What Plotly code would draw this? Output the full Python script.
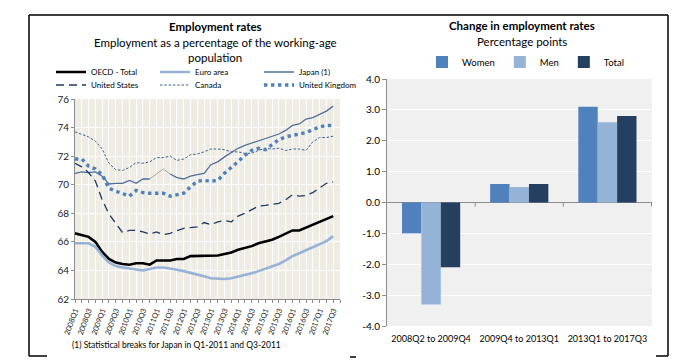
import plotly.graph_objects as go

# ---------------- data ----------------
quarters = [f"{y}Q{q}" for y in range(2008, 2018) for q in range(1, 5)][:39]

oecd = [66.6, 66.5, 66.35, 66.0, 65.3, 64.8, 64.55, 64.45, 64.4, 64.5,
        64.5, 64.4, 64.7, 64.7, 64.7, 64.8, 64.8, 65.0, 65.0, 65.0,
        65.0, 65.05, 65.15, 65.25, 65.45, 65.55, 65.7, 65.9, 66.0, 66.15,
        66.35, 66.55, 66.8, 66.8, 67.0, 67.2, 67.4, 67.6, 67.8]
euro = [65.9, 65.9, 65.9, 65.65, 65.05, 64.55, 64.3, 64.2, 64.15, 64.05,
        64.0, 64.1, 64.2, 64.2, 64.15, 64.05, 63.95, 63.85, 63.75, 63.6,
        63.45, 63.4, 63.4, 63.45, 63.55, 63.65, 63.8, 63.95, 64.1, 64.25,
        64.45, 64.7, 65.0, 65.2, 65.4, 65.6, 65.8, 66.05, 66.4]
japan = [70.8, 70.9, 70.85, 70.9, 70.6, 70.05, 70.1, 70.1, 70.3, 70.1,
         70.4, 70.4, 70.75, 71.1, 70.75, 70.5, 70.4, 70.6, 70.7, 70.8,
         71.4, 71.6, 71.95, 72.25, 72.55, 72.75, 72.9, 73.05, 73.2, 73.35,
         73.55, 73.8, 74.15, 74.25, 74.6, 74.7, 74.95, 75.15, 75.5]
us = [71.5, 71.25, 70.85, 70.25, 68.95, 67.95, 67.3, 66.65, 66.8, 66.8,
      66.7, 66.55, 66.7, 66.5, 66.6, 66.8, 66.95, 67.0, 67.05, 67.35,
      67.2, 67.4, 67.5, 67.4, 67.8, 68.0, 68.25, 68.5, 68.55, 68.65,
      68.7, 68.95, 69.3, 69.2, 69.25, 69.45, 69.75, 70.1, 70.2]
canada = [73.7, 73.55, 73.35, 73.05, 72.5, 71.5, 71.05, 71.0, 71.2, 71.55,
          71.5, 71.6, 71.9, 71.9, 72.0, 71.7, 71.8, 72.1, 72.15, 72.3,
          72.5, 72.5, 72.45, 72.3, 72.3, 72.2, 72.2, 72.4, 72.55, 72.5,
          72.55, 72.4, 72.5, 72.5, 72.4, 73.0, 73.3, 73.3, 73.4]
uk = [71.8, 71.8, 71.3, 71.1, 70.7, 69.75, 69.55, 69.35, 69.2, 69.6,
      69.45, 69.4, 69.4, 69.4, 69.2, 69.3, 69.4, 69.85, 70.25, 70.3,
      70.25, 70.3, 70.8, 71.2, 71.65, 72.05, 72.4, 72.55, 72.45, 72.8,
      73.15, 73.35, 73.45, 73.55, 73.65, 73.85, 74.05, 74.15, 74.15]

periods = ["2008Q2 to 2009Q4", "2009Q4 to 2013Q1", "2013Q1 to 2017Q3"]
women = [-1.0, 0.6, 3.1]
men = [-3.3, 0.5, 2.6]
total = [-2.1, 0.6, 2.8]

break_idx = [12, 13]  # Japan statistical breaks (2011Q1, 2011Q3)

# ---------------- helpers ----------------
W, H = 694, 361
FONT = "Lato"


def px(x):
    return x / W


def py(y):
    return 1 - y / H


xi = list(range(len(quarters)))
japan_main = [None if i in break_idx else v for i, v in enumerate(japan)]
japan_break = [v if (min(break_idx) - 1) <= i <= (max(break_idx) + 1) else None
               for i, v in enumerate(japan)]

fig = go.Figure()

line_specs = [
    ("OECD - Total", oecd, dict(color="#000000", width=2.6), "legend"),
    ("Euro area", euro, dict(color="#95B3D7", width=2.6), "legend"),
    ("Japan (1)", japan_main, dict(color="#4F6F9C", width=1.3), "legend"),
    ("United States", us, dict(color="#1F3864", width=1.3, dash="8px,5px"), "legend2"),
    ("Canada", canada, dict(color="#3E5E8E", width=1.0, dash="2.5px,1.8px"), "legend2"),
    ("United Kingdom", uk, dict(color="#4F81BD", width=3.4, dash="3.4px,3.6px"), "legend2"),
]
for name, vals, ln, lg in line_specs:
    fig.add_trace(go.Scatter(x=xi, y=vals, name=name, mode="lines", line=ln,
                             xaxis="x", yaxis="y", legend=lg))
fig.add_trace(go.Scatter(x=xi, y=japan_break, mode="lines", showlegend=False,
                         line=dict(color="#A6A6A6", width=1.0), xaxis="x", yaxis="y",
                         hoverinfo="skip"))

for name, vals, col in [("Women", women, "#4F81BD"), ("Men", men, "#95B3D7"),
                        ("Total", total, "#243F60")]:
    fig.add_trace(go.Bar(x=periods, y=vals, name=name, marker=dict(color=col, line_width=0),
                         xaxis="x2", yaxis="y2", legend="legend3"))

# ---------------- shapes ----------------
shapes = [
    dict(type="rect", xref="x domain", yref="y domain", x0=0, x1=1, y0=0, y1=1,
         fillcolor="#EEECE3", line_width=0, layer="below"),
    dict(type="rect", xref="x2 domain", yref="y2 domain", x0=0, x1=1, y0=0, y1=1,
         fillcolor="#F0F0F0", line_width=0, layer="below"),
]
for xa in [0.5, 1.5, 2.5]:
    shapes.append(dict(type="line", xref="x2", yref="y2", ysizemode="pixel", yanchor=0,
                       x0=xa, x1=xa, y0=0, y1=-4, line=dict(color="#8C8C8C", width=1)))
box = dict(color="#000000", width=1.5)
for (x0, y0, x1, y1) in [(29, 15, 668, 15), (29, 15, 29, 356), (668, 15, 668, 356),
                         (29, 356, 47, 356), (350, 357, 356, 357), (656, 356, 668, 356)]:
    shapes.append(dict(type="line", xref="paper", yref="paper", x0=px(x0), x1=px(x1),
                       y0=py(y0), y1=py(y1), line=box))

# ---------------- annotations ----------------
def ann(text, x, y, size, bold=False, xanchor="center"):
    return dict(text=f"<b>{text}</b>" if bold else text, x=px(x), y=py(y), xref="paper",
                yref="paper", showarrow=False, xanchor=xanchor, yanchor="middle",
                font=dict(family=FONT, size=size, color="#000000"))


annotations = [
    ann("Employment rates", 215, 27, 11.5, bold=True),
    ann("Employment as a percentage of the working-age", 215, 42, 11.5),
    ann("population", 215, 57, 11.5),
    ann("Change in employment rates", 522, 26, 11.5, bold=True),
    ann("Percentage points", 522, 41, 11.5),
    ann("(1) Statistical breaks for Japan in Q1-2011 and Q3-2011", 70, 345, 8.5,
        xanchor="left"),
]

leg_common = dict(orientation="h", xanchor="left", yanchor="middle",
                  font=dict(family=FONT, size=8, color="#000000"),
                  bgcolor="rgba(0,0,0,0)", entrywidthmode="pixels", entrywidth=59,
                  itemwidth=30, tracegroupgap=0)

fig.update_layout(
    width=W, height=H, autosize=False,
    margin=dict(l=0, r=0, t=0, b=0, autoexpand=False),
    paper_bgcolor="#FFFFFF", plot_bgcolor="rgba(0,0,0,0)",
    font=dict(family=FONT, size=10, color="#000000"),
    barmode="group", bargap=0.34, bargroupgap=0,
    xaxis=dict(domain=[px(75), px(340)], range=[0, 39], anchor="y", automargin=False,
               tickmode="array", tickvals=xi[::2], ticktext=quarters[::2],
               tickangle=-70, tickfont=dict(size=7.5, color="#222222"),
               ticks="outside", ticklen=3, tickcolor="#8C8C8C",
               showgrid=True, gridcolor="#FFFFFF", gridwidth=1,
               minor=dict(tickmode="linear", tick0=0, dtick=1, showgrid=True,
                          gridcolor="#FFFFFF", gridwidth=1, ticks="outside",
                          ticklen=3, tickcolor="#8C8C8C"),
               showline=True, linecolor="#8C8C8C", linewidth=1, zeroline=False),
    yaxis=dict(domain=[py(299), py(99)], range=[62, 76], dtick=2, anchor="x",
               automargin=False, tickfont=dict(size=10, color="#222222"),
               ticks="outside", ticklen=3, tickcolor="#8C8C8C",
               showgrid=True, gridcolor="#FFFFFF", gridwidth=1,
               showline=True, linecolor="#8C8C8C", linewidth=1, zeroline=False),
    xaxis2=dict(domain=[px(387), px(652)], anchor="y2", automargin=False,
                showline=False, ticks="", ticklabelstandoff=6,
                showgrid=False, tickfont=dict(size=9, color="#000000")),
    yaxis2=dict(domain=[py(326), py(79)], range=[-4, 4], anchor="x2", automargin=False,
                tickmode="array", tickvals=[-4, -3, -2, -1, 0, 1, 2, 3, 4],
                ticktext=[f"{v:.1f}" for v in [-4, -3, -2, -1, 0, 1, 2, 3, 4]],
                tickfont=dict(size=10, color="#000000"),
                ticks="outside", ticklen=4, tickcolor="#8C8C8C",
                showgrid=True, gridcolor="#FFFFFF", gridwidth=1,
                showline=True, linecolor="#8C8C8C", linewidth=1,
                zeroline=True, zerolinecolor="#8C8C8C", zerolinewidth=1),
    legend=dict(x=px(51), y=py(72), **leg_common),
    legend2=dict(x=px(51), y=py(85), **leg_common),
    legend3=dict(x=px(422), y=py(62), orientation="h", xanchor="left", yanchor="middle",
                 font=dict(family=FONT, size=9.5, color="#000000"),
                 bgcolor="rgba(0,0,0,0)", itemwidth=30),
    shapes=shapes,
    annotations=annotations,
    showlegend=True,
)

fig.write_html("out.html", config={"displayModeBar": False},
               post_script="document.body.style.margin='0';document.body.style.padding='0';")
